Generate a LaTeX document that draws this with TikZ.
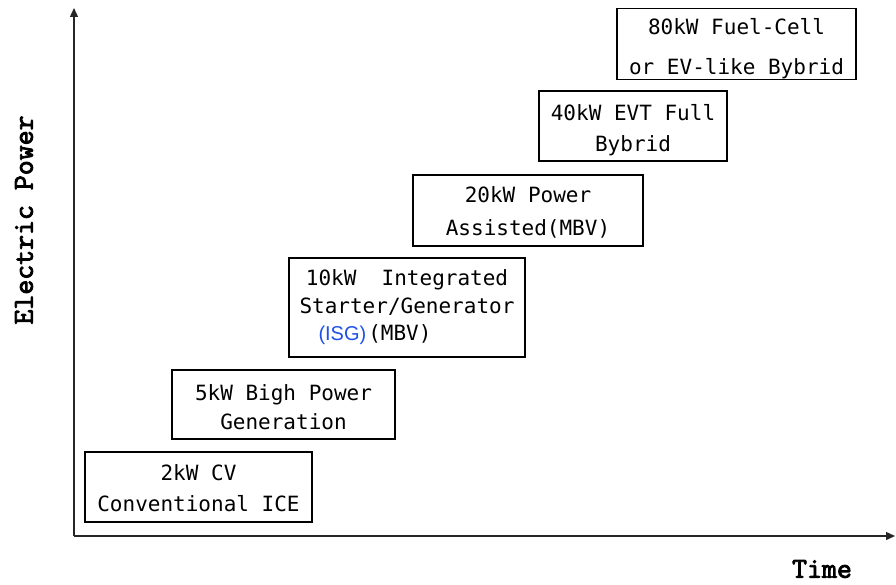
\documentclass[tikz,border=0pt]{standalone}
\usepackage{fontspec}
\usetikzlibrary{arrows.meta}
\newfontfamily\boxfont{DejaVu Sans Mono}
\newfontfamily\axisfont{Latin Modern Mono}[FakeBold=3]
\newfontfamily\isgfont{Liberation Sans}
\definecolor{isgblue}{RGB}{30,80,230}
\tikzset{
  stage/.style={draw=black, line width=1.2pt, rectangle, inner sep=0pt,
    align=center, font={\boxfont\fontsize{21}{#1}\selectfont}},
  axis/.style={draw=black!85, line width=1.4pt, -{Triangle[length=9pt,width=8pt]}},
  axislabel/.style={font={\axisfont\fontsize{29}{29}\selectfont}}
}
% raises the top of a text block so that its lines sit lower in the box
\newcommand{\pushdown}[1]{\rule{0pt}{\dimexpr16pt+#1\relax}}
\begin{document}
\begin{tikzpicture}[x=1pt,y=-1pt]
\useasboundingbox (0,0) rectangle (896,585);

% axes
\coordinate (O) at (74,536);
\coordinate (ytip) at (74,8);
\coordinate (xtip) at (895,536);
\draw[axis] (O) -- (ytip);
\draw[axis] (O) -- (xtip);
\node[axislabel, rotate=90] (ylabel) at (24,220) {Electric Power};
\node[axislabel] (xlabel) at (822,569) {Time};

% power stages
\node[stage=31, minimum width=227pt, minimum height=70pt] (cv) at (198.5,487)
  {\pushdown{3pt}2kW CV\\Conventional ICE};
\node[stage=29, minimum width=223pt, minimum height=69pt] (hpg) at (283.5,404.5)
  {\pushdown{5pt}5kW Bigh Power\\Generation};
\node[stage=27.5, minimum width=236pt, minimum height=99pt] (isg) at (407,307.5)
  {10kW\ \ Integrated\\Starter/Generator\\%
   \textcolor{isgblue}{\isgfont\fontsize{20}{20}\selectfont(ISG)}\kern2pt(MBV)\hbox to 64pt{}};
\node[stage=33, minimum width=230pt, minimum height=71pt] (pa) at (528,210.5)
  {\pushdown{4pt}20kW Power\\Assisted(MBV)};
\node[stage=31, minimum width=188pt, minimum height=70pt] (evt) at (633,126)
  {\pushdown{8pt}40kW EVT Full\\Bybrid};
\node[stage=40, minimum width=239pt, minimum height=70pt] (fc) at (736.5,44)
  {\pushdown{10pt}80kW Fuel-Cell\\or EV-like Bybrid};
\end{tikzpicture}
\end{document}
